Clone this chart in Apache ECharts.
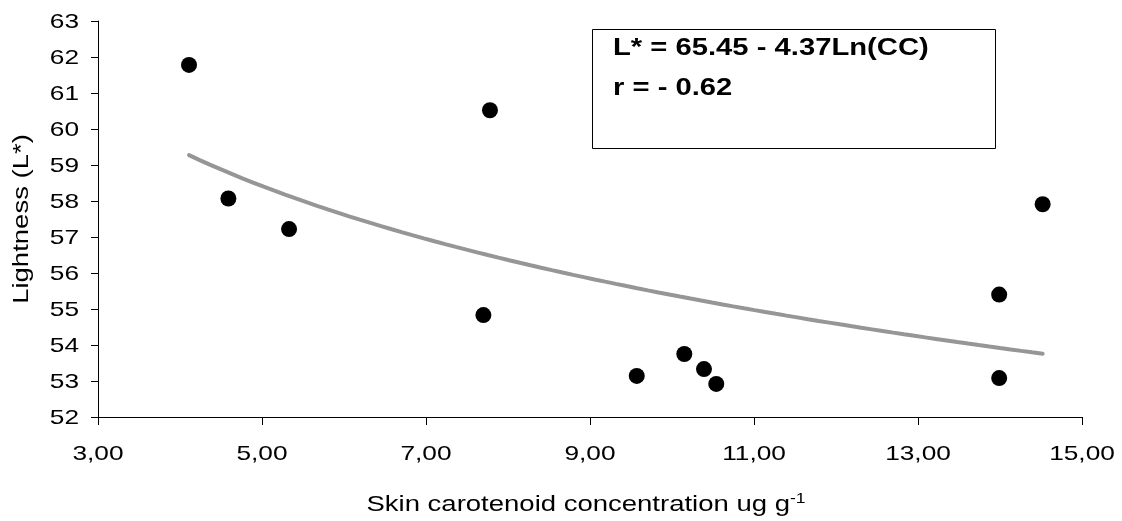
<!DOCTYPE html>
<html>
<head>
<meta charset="utf-8">
<script src="https://cdn.jsdelivr.net/npm/echarts@6/dist/echarts.min.js"></script>
<style>
  html, body { margin: 0; padding: 0; background: #ffffff; }
  #chart { width: 1122px; height: 521px; }
</style>
</head>
<body>
<div id="chart"></div>
<script>
// Skin carotenoid concentration (ug/g) and skin lightness L* per subject
const carotenoid = [4.11, 4.59, 5.33, 7.78, 7.70, 9.57, 10.15, 10.39, 10.54, 13.99, 13.99, 14.52];
const lightness  = [61.78, 58.07, 57.22, 60.52, 54.83, 53.14, 53.75, 53.33, 52.92, 53.08, 55.40, 57.91];

// Axis ticks
const xTicks = [3, 5, 7, 9, 11, 13, 15];
const yTicks = [52, 53, 54, 55, 56, 57, 58, 59, 60, 61, 62, 63];

// Logarithmic fit stated in the annotation: L* = a - b·Ln(CC)
const fitIntercept = 65.45;
const fitSlope = 4.37;
const fitText = ['L* = 65.45 - 4.37Ln(CC)', 'r = - 0.62'];

// Axis titles
const xTitle = 'Skin carotenoid concentration ug g';
const xTitleSup = '-1';
const yTitle = 'Lightness (L*)';

const FONT = '"Liberation Sans", Arial, Helvetica, sans-serif';
const STRETCH = 1.25;

const points = carotenoid.map((c, i) => [c, lightness[i]]);

// Fitted curve spans the observed concentration range
const cMin = Math.min(...carotenoid);
const cMax = Math.max(...carotenoid);
const fitCurve = [];
const steps = 80;
for (let i = 0; i <= steps; i++) {
  const c = cMin + (cMax - cMin) * i / steps;
  fitCurve.push([c, fitIntercept - fitSlope * Math.log(c)]);
}

const chart = echarts.init(document.getElementById('chart'), null, { renderer: 'canvas' });

chart.setOption({
  animation: false,
  backgroundColor: '#ffffff',
  grid: { left: 98, right: 40, top: 21, bottom: 104, containLabel: false },
  xAxis: {
    type: 'value',
    min: xTicks[0],
    max: xTicks[xTicks.length - 1],
    interval: 2,
    axisLine: { show: true, onZero: false, lineStyle: { color: '#000000', width: 1 } },
    axisTick: { show: true, inside: false, length: 8, lineStyle: { color: '#000000', width: 1 } },
    axisLabel: { show: false },
    splitLine: { show: false }
  },
  yAxis: {
    type: 'value',
    min: yTicks[0],
    max: yTicks[yTicks.length - 1],
    interval: 1,
    axisLine: { show: true, onZero: false, lineStyle: { color: '#000000', width: 1 } },
    axisTick: { show: true, inside: false, length: 7, lineStyle: { color: '#000000', width: 1 } },
    axisLabel: { show: false },
    splitLine: { show: false }
  },
  series: [
    {
      type: 'line',
      data: fitCurve,
      showSymbol: false,
      smooth: false,
      lineStyle: { color: '#969696', width: 4, cap: 'round' },
      silent: true,
      z: 2
    },
    {
      type: 'scatter',
      data: points,
      symbol: 'circle',
      symbolSize: 16,
      itemStyle: { color: '#000000', opacity: 1 },
      z: 3
    }
  ]
});

// Tick labels and titles are drawn as text elements so they can be widened horizontally
function txt(opts) {
  return {
    type: 'text',
    x: opts.x,
    y: opts.y,
    rotation: opts.rotation || 0,
    scaleX: opts.scaleX || STRETCH,
    silent: true,
    z: 10,
    style: Object.assign({
      text: opts.text,
      fill: '#000000',
      font: opts.font || ('21px ' + FONT),
      textAlign: opts.align || 'center',
      textVerticalAlign: opts.valign || 'middle',
      align: opts.align || 'center',
      verticalAlign: opts.valign || 'middle'
    }, opts.extra || {})
  };
}

const elements = [];

yTicks.forEach(v => {
  const p = chart.convertToPixel({ gridIndex: 0 }, [xTicks[0], v]);
  elements.push(txt({ x: 79, y: p[1] + 1, text: String(v), align: 'right' }));
});

xTicks.forEach(v => {
  const p = chart.convertToPixel({ gridIndex: 0 }, [v, yTicks[0]]);
  elements.push(txt({ x: p[0], y: p[1] + 37, text: v.toFixed(2).replace('.', ','), align: 'center' }));
});

const plotLeft = chart.convertToPixel({ gridIndex: 0 }, [xTicks[0], yTicks[0]]);
const plotRight = chart.convertToPixel({ gridIndex: 0 }, [xTicks[xTicks.length - 1], yTicks[yTicks.length - 1]]);
const midX = (plotLeft[0] + plotRight[0]) / 2;
const midY = (plotLeft[1] + plotRight[1]) / 2;

// X axis title with superscript unit exponent
elements.push({
  type: 'text',
  x: midX - 4,
  y: plotLeft[1] + 88,
  scaleX: STRETCH,
  silent: true,
  z: 10,
  style: {
    text: '{m|' + xTitle + '}{s|' + xTitleSup + '}',
    align: 'center',
    verticalAlign: 'middle',
    textAlign: 'center',
    textVerticalAlign: 'middle',
    rich: {
      m: { font: '22px ' + FONT, fill: '#000000', color: '#000000', lineHeight: 26 },
      s: { font: '14px ' + FONT, fill: '#000000', color: '#000000', lineHeight: 26, verticalAlign: 'top' }
    }
  }
});

// Y axis title, rotated
elements.push(txt({ x: 22, y: midY, rotation: Math.PI / 2, text: yTitle, font: '22px ' + FONT }));

// Annotation box with the fitted equation
elements.push({
  type: 'rect',
  shape: { x: 592.5, y: 29.5, width: 403, height: 119 },
  style: { fill: '#ffffff', stroke: '#000000', lineWidth: 1 },
  silent: true,
  z: 8
});
elements.push(txt({ x: 613, y: 49, text: fitText[0], align: 'left', font: 'bold 23px ' + FONT, scaleX: 1.27 }));
elements.push(txt({ x: 613, y: 89, text: fitText[1], align: 'left', font: 'bold 23px ' + FONT, scaleX: 1.27 }));

chart.setOption({ graphic: { elements: elements } });
</script>
</body>
</html>
